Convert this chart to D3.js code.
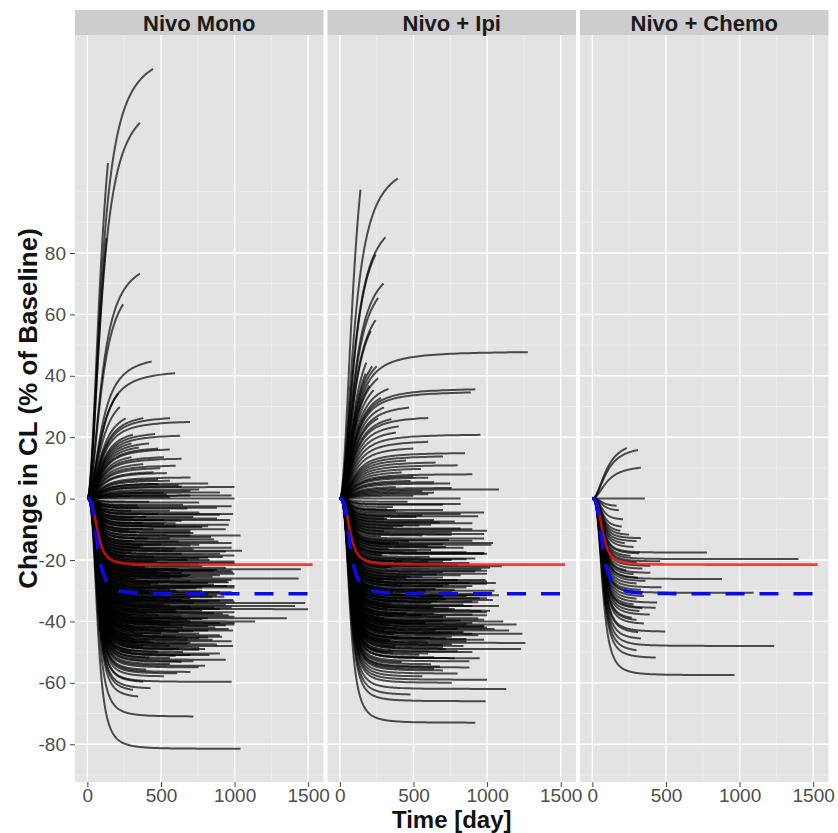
<!DOCTYPE html>
<html>
<head>
<meta charset="utf-8">
<script src="https://cdn.jsdelivr.net/npm/d3@7"></script>
<style>
  body { margin: 0; background: #fff; }
  text { font-family: "Liberation Sans", Arial, Helvetica, sans-serif; }
</style>
</head>
<body>
<svg width="838" height="833"></svg>
<script>
// facets and axes
const panels = ['Nivo Mono', 'Nivo + Ipi', 'Nivo + Chemo'];
const xTicks = [0, 500, 1000, 1500];
const xMinor = [250, 750, 1250];
const yTicks = [-80, -60, -40, -20, 0, 20, 40, 60, 80];
const yMinor = [-90, -70, -50, -30, -10, 10, 30, 50, 70, 90, 100];

// individual curves: plateau change in CL (%) and last day of follow-up
const monoPlateau = [
  147, 132, 165, 135, 79, 74, 47, 42, 42, 36, 27, 25.5, 21, 23, 16.5, 13.3, 10.3, 8.6, 3.8, 0,
  19, 18, 17, 15, 14, 12, 11, 9, 7, 6, 5, 5, 4, 3, 2, 2, 1, 1, 30, 28, 22, 20,
  -2, -3, -4, -5, -6, -7, -8, -9, -10, -11, -12, -13, -14, -15, -16, -17, -18, -19, -20, -21,
  -23, -24, -25, -26, -27, -28, -29, -30, -31, -32, -33, -34, -35, -36, -37, -38, -39, -40, -41, -42,
  -43, -44, -45, -46, -47, -48, -49, -50, -51, -52, -53, -55, -57, -59.7, -63, -65, -71, -81.5,
  -1, -3, -4, -5, -6, -7, -8, -9, -10, -11, -12, -13, -14, -15, -16, -17, -18, -19, -20, -21,
  -22, -23, -24, -25, -26, -27, -28, -29, -30, -31, -32, -33, -34, -35, -36, -37, -38, -39, -40, -41,
  -42, -43, -44, -45, -46, -47, -48, -49, -50, -51, -52, -54, -56, -58, -60, -62,
  -2.5, -4.5, -6.5, -8.5, -10.5, -12.5, -14.5, -15.5, -16.5, -18.5, -19.5, -20.5, -21.5, -22.5, -23.5, -24.5, -25.5, -26.5, -27.5, -28.5,
  -29.5, -30.5, -31.5, -32.5, -33.5, -34.5, -35.5, -36.5, -37.5, -38.5, -39.5, -40.5, -41.5, -42.5, -43.5, -44.5, -45.5, -46.5, -47.5, -48.5,
  -50.5, -52.5, -54.5, -56.5,
  -17.5, -19.5, -21.5, -23.5, -25.5, -26.5, -28.5, -29.5, -31.5, -32.5, -33.5, -34.5, -35.5, -36.5, -37.5, -38.5, -39.5, -40.5, -41.5, -42.5,
  -43.5, -44.5, -45.5, -46.5, -47.5, -48.5, -20.5, -22.5, -24.5, -27.5, -30.5, -32.5, -34.5, -36.5, -38.5, -40.5, -42.5, -30.5, -25.5, -35.5,
  -40.5, -28.5, -33.5, -23.5,
  4.5, 2.5, 0.5, -1.25, -3.25, -5.25, -7.25, -9.25, -11.25, -13.25, -15.25, -17.25, -19.25, -21.25, -23.25, -25.25, -27.25, -29.25, -31.25, -33.25,
  -35.25, -37.25, -39.25, -41.25, -43.25, -45.25, -47.25, -49.25, -51.25, -53.25, 6.5, 1.5, -2.25, -6.25, -10.25, -14.25, -18.25, -22.25, -26.25, -30.25,
  -34.25, -38.25, -42.25, -46.25, -50.25, -8.25, -16.25, -24.25, -32.25, -40.25
];
const monoLastDay = [
  446, 357, 140, 130, 357, 243, 437, 596, 210, 220, 562, 697, 630, 310, 560, 640, 495, 540, 1000, 1000,
  420, 350, 480, 300, 520, 380, 600, 450, 700, 560, 820, 480, 640, 760, 900, 520, 700, 980, 260, 380, 460, 300,
  650, 880, 560, 990, 720, 970, 600, 820, 940, 700, 1040, 560, 890, 760, 980, 1050, 640, 920, 830, 1000,
  1450, 990, 700, 1435, 950, 860, 1000, 780, 1010, 930, 990, 1480, 1410, 1500, 1000, 960, 1355, 1140, 1000, 870,
  990, 760, 915, 850, 700, 990, 800, 650, 830, 560, 720, 755, 610, 980, 310, 345, 720, 1040,
  420, 350, 300, 480, 400, 520, 380, 600, 450, 330, 700, 410, 620, 500, 360, 580, 900, 450, 680, 540,
  780, 620, 480, 900, 560, 700, 430, 780, 600, 520, 850, 640, 720, 560, 900, 610, 480, 820, 700, 560,
  650, 820, 500, 600, 680, 450, 560, 620, 480, 700, 420, 560, 400, 520, 380, 430,
  980, 760, 880, 960, 700, 840, 980, 380, 720, 1000, 760, 1000, 700, 940, 860, 1000, 640, 980, 820, 1000,
  560, 980, 880, 700, 820, 940, 860, 780, 920, 1000, 680, 900, 820, 960, 620, 900, 760, 980, 880, 760,
  900, 940, 800, 700,
  300, 250, 350, 280, 420, 330, 260, 390, 300, 450, 360, 280, 460, 340, 400, 300, 450, 360, 280, 420,
  320, 380, 300, 420, 340, 380, 470, 390, 560, 480, 420, 560, 520, 600, 640, 560, 520, 900, 850, 980,
  1000, 950, 1000, 980,
  620, 700, 560, 760, 680, 900, 640, 780, 720, 860, 700, 940, 820, 760, 880, 680, 960, 740, 820, 900,
  700, 860, 780, 940, 720, 820, 680, 760, 600, 640, 480, 540, 340, 300, 280, 320, 260, 300, 280, 240,
  300, 260, 290, 320, 300, 520, 600, 640, 700, 560
];

const ipiPlateau = [
  111, 152, 94, 93, 78, 75, 68, 67, 58, 48, 54, 36, 35, 33, 30, 28, 25, 21, 19, 17,
  15, 14, 13, 12, 11, 10, 9, 8, 7, 6, 5, 4, 3, 2, 1, 0, 42, 39, 37, 45,
  52, 50, 46, 31, 27, 23,
  -73, -66, -62, -59, -49, -47, -44, -40, -22, -15, -30, -35, -38, -55, -57, -52, -43, -41, -18, -10,
  -1, -2, -4, -5, -6, -7, -8, -9, -11, -12, -13, -14, -15, -16, -17, -18, -19, -20, -21, -22,
  -23, -24, -25, -26, -27, -28, -29, -30, -31, -32, -33, -34, -35, -36, -37, -38, -39, -40, -41, -42,
  -43, -44, -45, -46, -47, -48, -49, -50, -51, -52, -53, -54, -56, -58, -60, -64,
  -3.5, -6.5, -9.5, -12.5, -14.5, -16.5, -18.5, -20.5, -22.5, -24.5, -25.5, -26.5, -27.5, -28.5, -29.5, -30.5, -31.5, -32.5, -33.5, -34.5,
  -35.5, -36.5, -37.5, -38.5, -39.5, -40.5, -41.5, -42.5, -43.5, -44.5, -45.5, -46.5, -47.5, -48.5, -50.5, -53.5, -20.5, -25.5, -30.5, -35.5,
  -40.5, -45.5, -28.5, -33.5, -38.5, -23.5, -27.5, -31.5, -36.5, -42.5, -32.5, -26.5,
  -4.5, -8.5, -10.5, -13.5, -17.5, -19.5, -21.5, -24.5, -26.5, -28.5, -30.5, -32.5, -34.5, -36.5, -38.5, -40.5, -42.5, -44.5, -46.5, -48.5,
  -5.5, -11.5, -15.5, -22.5, -29.5, -33.5, -37.5, -41.5, -45.5, -50.5, -7.5, -14.5, -20.5, -27.5, -31.5, -35.5, -39.5, -43.5, -47.5, -55.5,
  5.5, 3.5, 1.5, -1.75, -3.75, -5.75, -7.75, -9.75, -11.75, -13.75, -15.75, -17.75, -19.75, -21.75, -23.75, -25.75, -27.75, -29.75, -31.75, -33.75,
  -35.75, -37.75, -39.75, -41.75, -43.75, -45.75, -47.75, -49.75, -51.75, -54.75, 7.5, 2.5, -2.75, -6.75, -10.75, -14.75, -18.75, -22.75, -26.75, -30.75,
  -34.75, -38.75, -42.75, -46.75, -50.75, -8.75, -16.75, -24.75, -32.75, -40.75
];
const ipiLastDay = [
  393, 140, 310, 243, 297, 260, 243, 210, 180, 1277, 175, 920, 890, 300, 260, 350, 400, 955, 600, 500,
  850, 700, 450, 650, 800, 550, 420, 900, 600, 480, 750, 380, 1080, 640, 500, 820, 230, 330, 280, 260,
  220, 250, 200, 470, 600, 380,
  920, 990, 1130, 1000, 1230, 1260, 1240, 1110, 1100, 1030, 1050, 1080, 1000, 880, 800, 950, 1150, 1200, 980, 900,
  460, 700, 380, 820, 520, 640, 900, 430, 760, 560, 980, 470, 700, 840, 520, 1000, 610, 760, 880, 540,
  960, 700, 820, 450, 1000, 740, 860, 580, 960, 700, 1040, 620, 900, 780, 1000, 560, 940, 700, 860, 1000,
  650, 900, 760, 980, 600, 840, 720, 900, 540, 780, 880, 620, 700, 560, 760, 480,
  320, 300, 360, 280, 400, 330, 290, 420, 350, 300, 480, 380, 330, 420, 300, 360, 440, 310, 400, 350,
  380, 320, 450, 360, 300, 420, 340, 380, 300, 360, 400, 340, 320, 380, 360, 420, 600, 560, 520, 640,
  580, 620, 700, 660, 720, 1000, 1060, 1080, 1020, 1050, 950, 990,
  980, 620, 1000, 740, 860, 920, 680, 1000, 800, 900, 760, 1000, 840, 960, 700, 900, 800, 940, 860, 700,
  560, 980, 600, 1020, 650, 900, 640, 980, 720, 600, 780, 1040, 700, 880, 1000, 620, 980, 840, 760, 640,
  640, 760, 600, 820, 700, 940, 680, 820, 760, 900, 720, 980, 860, 800, 920, 700, 1000, 780, 860, 940,
  740, 900, 820, 980, 760, 860, 700, 800, 640, 680, 500, 560, 360, 320, 300, 340, 280, 320, 300, 260,
  320, 280, 310, 340, 320, 540, 620, 660, 720, 580
];

const chemoPlateau = [
  19.5, 17.5, 11, 0, -2.5, -7, -9.5, -17.6, -19.7, -20.5, -26.2, -24.3, -22, -29, -30.7, -34, -35.7, -38, -39.5, -43.4,
  -48, -57.5, -52, -12, -14, -15, -16, -18, -19, -21, -23, -25, -26, -27, -28, -30, -31, -32, -33, -35,
  -36, -37, -40, -41, -44, -46, -50, -4, -11, -13, -24
];
const chemoLastDay = [
  234, 310, 330, 357, 165, 208, 200, 778, 1400, 460, 880, 394, 394, 470, 1095, 440, 430, 390, 268, 495,
  1235, 965, 430, 250, 300, 220, 280, 320, 260, 300, 340, 280, 310, 360, 300, 330, 290, 350, 300, 280,
  340, 320, 300, 350, 310, 330, 300, 180, 190, 330, 230
];

// population curves drawn in every panel
const typical = { plateau: -21.5, lastDay: 1530 };   // red
const median = { plateau: -31, lastDay: 1520 };      // blue dashed

// time course of the change (sigmoid Emax in time)
const shapeDown = { t50: 70, hill: 3 };
const shapeUp = { t50: 100, hill: 2 };
const frac = (t, s) => Math.pow(t, s.hill) / (Math.pow(s.t50, s.hill) + Math.pow(t, s.hill));

const curves = [
  monoPlateau.map((p, i) => ({ plateau: p, lastDay: monoLastDay[i] })),
  ipiPlateau.map((p, i) => ({ plateau: p, lastDay: ipiLastDay[i] })),
  chemoPlateau.map((p, i) => ({ plateau: p, lastDay: chemoLastDay[i] }))
];

const svg = d3.select('svg');
const panelW = 248.5, panelTop = 35, panelBottom = 782, stripTop = 10;
const lefts = panels.map((d, i) => 75 + i * 252.5);

const x = d3.scaleLinear().domain([-84, 1604]).range([0, panelW]);
const y = d3.scaleLinear().domain([-92.3, 151]).range([panelBottom, panelTop]);

const pathOf = c => {
  const s = c.plateau > 0 ? shapeUp : shapeDown;
  const times = d3.range(0, Math.min(c.lastDay, 400), 3)
    .concat(d3.range(400, c.lastDay, 25))
    .concat([c.lastDay]);
  return d3.line()
    .x(t => x(t))
    .y(t => y(c.plateau * frac(t, s)))(times);
};

const defs = svg.append('defs');
defs.append('clipPath').attr('id', 'panelClip')
  .append('rect').attr('width', panelW).attr('height', panelBottom - panelTop).attr('y', panelTop);

const panelG = svg.selectAll('g.panel')
  .data(panels)
  .enter()
  .append('g')
  .attr('class', 'panel')
  .attr('transform', (d, i) => `translate(${lefts[i]}, 0)`);

// background, strip
panelG.append('rect')
  .attr('y', panelTop).attr('width', panelW).attr('height', panelBottom - panelTop)
  .style('fill', '#e3e3e3');
panelG.append('rect')
  .attr('y', stripTop).attr('width', panelW).attr('height', panelTop - stripTop)
  .style('fill', '#cdcdcd');
panelG.append('text')
  .attr('x', panelW / 2).attr('y', 31)
  .style('text-anchor', 'middle')
  .style('font-size', '22px')
  .style('font-weight', 'bold')
  .style('fill', '#1a1a1a')
  .text(d => d);

// grid
panelG.selectAll('line.xminor').data(xMinor).enter().append('line')
  .attr('x1', d => x(d)).attr('x2', d => x(d)).attr('y1', panelTop).attr('y2', panelBottom)
  .style('stroke', '#f0f0f0').style('stroke-width', 0.7);
panelG.selectAll('line.yminor').data(yMinor).enter().append('line')
  .attr('x1', 0).attr('x2', panelW).attr('y1', d => y(d)).attr('y2', d => y(d))
  .style('stroke', '#f0f0f0').style('stroke-width', 0.7);
panelG.selectAll('line.xmajor').data(xTicks).enter().append('line')
  .attr('x1', d => x(d)).attr('x2', d => x(d)).attr('y1', panelTop).attr('y2', panelBottom)
  .style('stroke', '#fff').style('stroke-width', 1.4);
panelG.selectAll('line.ymajor').data(yTicks).enter().append('line')
  .attr('x1', 0).attr('x2', panelW).attr('y1', d => y(d)).attr('y2', d => y(d))
  .style('stroke', '#fff').style('stroke-width', 1.4);

// individual curves
const plotG = panelG.append('g').attr('clip-path', 'url(#panelClip)');
plotG.selectAll('path.indiv')
  .data((d, i) => curves[i])
  .enter()
  .append('path')
  .attr('class', 'indiv')
  .attr('d', pathOf)
  .style('fill', 'none')
  .style('stroke', '#000')
  .style('stroke-opacity', 0.68)
  .style('stroke-width', 2);

// population curves
plotG.append('path')
  .attr('d', pathOf(typical))
  .style('fill', 'none')
  .style('stroke', '#f01010')
  .style('stroke-opacity', 0.8)
  .style('stroke-width', 2.6);
plotG.append('path')
  .attr('d', pathOf(median))
  .style('fill', 'none')
  .style('stroke', '#0a0af0')
  .style('stroke-width', 3.6)
  .style('stroke-dasharray', '19,15');

// axes
const fmt = d => String(d);
panelG.append('g')
  .attr('transform', `translate(0, ${panelBottom})`)
  .each(function () {
    d3.select(this).call(d3.axisBottom(x).tickValues(xTicks).tickSize(5).tickPadding(2).tickFormat(fmt));
  });
svg.append('g')
  .attr('transform', `translate(${lefts[0]}, 0)`)
  .call(d3.axisLeft(y).tickValues(yTicks).tickSize(5).tickPadding(4).tickFormat(fmt));

svg.selectAll('.domain').remove();
svg.selectAll('.tick line').style('stroke', '#444').style('stroke-width', 1);
svg.selectAll('.tick text')
  .style('font-size', '19px')
  .style('fill', '#4d4d4d')
  .style('font-family', '"Liberation Sans", Arial, sans-serif');

// titles
svg.append('text')
  .attr('x', (lefts[0] + lefts[2] + panelW) / 2)
  .attr('y', 828)
  .style('text-anchor', 'middle')
  .style('font-size', '24px')
  .style('font-weight', 'bold')
  .style('fill', '#111')
  .text('Time [day]');
svg.append('text')
  .attr('transform', `translate(37, ${(panelTop + panelBottom) / 2}) rotate(-90)`)
  .style('text-anchor', 'middle')
  .style('font-size', '26px')
  .style('font-weight', 'bold')
  .style('fill', '#111')
  .text('Change in CL (% of Baseline)');
</script>
</body>
</html>
